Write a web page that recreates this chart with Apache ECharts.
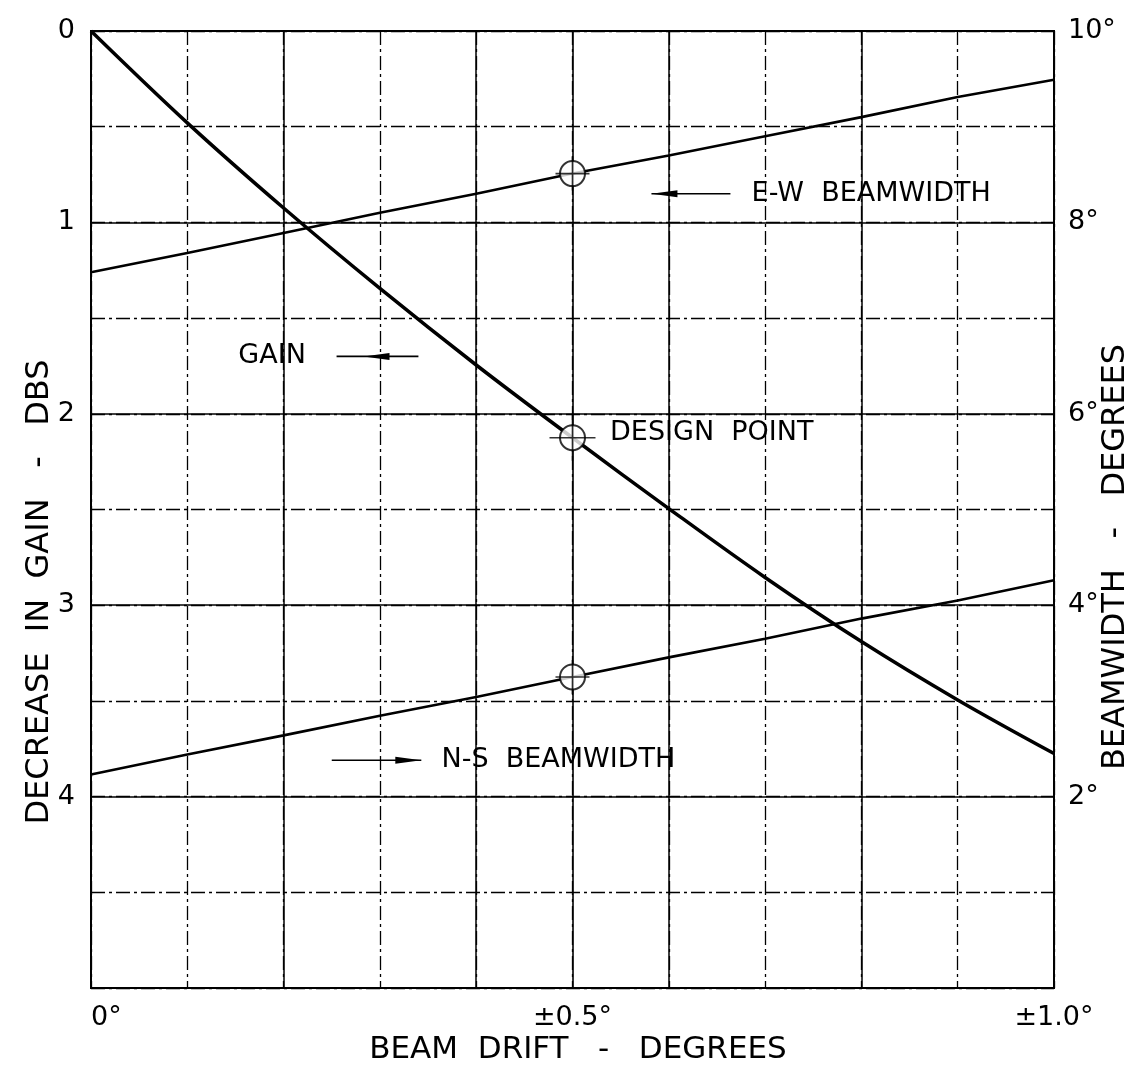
<!DOCTYPE html>
<html><head><meta charset="utf-8">
<script src="https://cdn.jsdelivr.net/npm/echarts@6/dist/echarts.min.js"></script>
<style>html,body{margin:0;padding:0;background:#fff}#c{width:1140px;height:1069px}</style>
</head><body><div id="c"></div>
<script>
// ---- data ----
const beamDrift     = [0, 0.1, 0.2, 0.3, 0.4, 0.5, 0.6, 0.7, 0.8, 0.9, 1.0];
const gainDecrease  = [0, 0.48, 0.925, 1.345, 1.745, 2.125, 2.495, 2.855, 3.19, 3.495, 3.775];
const ewBeamwidth   = [7.48, 7.68, 7.89, 8.10, 8.30, 8.51, 8.70, 8.90, 9.10, 9.31, 9.49];
const nsBeamwidth   = [2.23, 2.44, 2.64, 2.845, 3.04, 3.25, 3.455, 3.65, 3.86, 4.05, 4.26];
const designDrift   = 0.5;
const xTickLabels   = {'0': '0°', '0.5': '±0.5°', '1': '±1.0°'};
const leftTickLabels  = ['0', '1', '2', '3', '4'];
const rightTickLabels = {'2': '2°', '4': '4°', '6': '6°', '8': '8°', '10': '10°'};
const xTitle = 'BEAM  DRIFT   -   DEGREES';
const leftTitle = 'DECREASE  IN  GAIN   -   DBS';
const rightTitle = 'BEAMWIDTH   -   DEGREES';

const FONT = '"DejaVu Sans", "Liberation Sans", sans-serif';
const chart = echarts.init(document.getElementById('c'), null, {renderer: 'canvas'});
const pairs = (ys) => beamDrift.map((x, i) => [x, ys[i]]);
const di = beamDrift.indexOf(designDrift);

const crossPath = 'path://M0 10 L20 10 M10 0 L10 20';

chart.setOption({
  animation: false,
  backgroundColor: '#fff',
  grid: {left: 91, right: 86, top: 31, bottom: 81, show: true, borderColor: '#000', borderWidth: 2,
         backgroundColor: 'transparent', outerBoundsMode: 'none', containLabel: false},
  xAxis: [
    {type: 'value', min: 0, max: 1, interval: 0.1, position: 'bottom',
     axisLine: {show: false}, axisTick: {show: false},
     axisLabel: {margin: 16, color: '#000', fontFamily: FONT, fontSize: 27, alignMinLabel: 'left',
       formatter: v => { const k = String(Math.round(v * 10) / 10); return xTickLabels[k] || ''; }},
     splitLine: {show: true, lineStyle: {color: '#000', width: 1.3, type: [14, 4, 3, 4]}}},
    {type: 'value', min: 0, max: 1, interval: 0.2, position: 'bottom',
     axisLine: {show: false}, axisTick: {show: false}, axisLabel: {show: false},
     splitLine: {show: true, lineStyle: {color: '#000', width: 1.5}}}
  ],
  yAxis: [
    {type: 'value', min: 0, max: 5, interval: 0.5, inverse: true, position: 'left',
     axisLine: {show: false}, axisTick: {show: false},
     axisLabel: {margin: 16, color: '#000', fontFamily: FONT, fontSize: 27,
       formatter: v => { const r = Math.round(v * 2) / 2; return Number.isInteger(r) && r < leftTickLabels.length ? leftTickLabels[r] : ''; }},
     splitLine: {show: true, lineStyle: {color: '#000', width: 1.3, type: [14, 4, 3, 4]}}},
    {type: 'value', min: 0, max: 10, interval: 2, position: 'right',
     axisLine: {show: false}, axisTick: {show: false},
     axisLabel: {margin: 14, color: '#000', fontFamily: FONT, fontSize: 27, padding: [0, 0, 14, 0],
       formatter: v => rightTickLabels[String(Math.round(v))] || ''},
     splitLine: {show: false}},
    {type: 'value', min: 0, max: 5, interval: 1, inverse: true, position: 'left',
     axisLine: {show: false}, axisTick: {show: false}, axisLabel: {show: false},
     splitLine: {show: true, lineStyle: {color: '#000', width: 1.6}}}
  ],
  series: [
    {name: 'Gain', type: 'line', xAxisIndex: 0, yAxisIndex: 0, data: pairs(gainDecrease),
     smooth: 0.35, symbol: 'none', lineStyle: {color: '#000', width: 3.5}, z: 5},
    {name: 'E-W beamwidth', type: 'line', xAxisIndex: 0, yAxisIndex: 1, data: pairs(ewBeamwidth),
     symbol: 'none', lineStyle: {color: '#000', width: 2.6}, z: 5},
    {name: 'N-S beamwidth', type: 'line', xAxisIndex: 0, yAxisIndex: 1, data: pairs(nsBeamwidth),
     symbol: 'none', lineStyle: {color: '#000', width: 2.6}, z: 5},
    {name: 'Design gain', type: 'scatter', xAxisIndex: 0, yAxisIndex: 0,
     data: [[designDrift, gainDecrease[di]]], symbol: 'circle', symbolSize: 25,
     itemStyle: {color: '#fff', borderColor: '#000', borderWidth: 2}, z: 6,
     markLine: {silent: true, symbol: ['none', 'none'], label: {show: false},
       lineStyle: {color: '#000', width: 1.6, type: 'solid'}, data: [{xAxis: designDrift}], z: 1}},
    {name: 'Design beamwidth', type: 'scatter', xAxisIndex: 0, yAxisIndex: 1,
     data: [[designDrift, ewBeamwidth[di]], [designDrift, nsBeamwidth[di]]], symbol: 'circle', symbolSize: 25,
     itemStyle: {color: '#fff', borderColor: '#000', borderWidth: 2}, z: 6},
    {name: 'Design cross gain', type: 'scatter', xAxisIndex: 0, yAxisIndex: 0,
     data: [[designDrift, gainDecrease[di]]], symbol: crossPath, symbolSize: 46, symbolKeepAspect: false,
     itemStyle: {color: 'none', borderColor: '#000', borderWidth: 1.6}, z: 7},
    {name: 'Design cross beamwidth', type: 'scatter', xAxisIndex: 0, yAxisIndex: 1,
     data: [[designDrift, ewBeamwidth[di]], [designDrift, nsBeamwidth[di]]], symbol: crossPath, symbolSize: 34,
     itemStyle: {color: 'none', borderColor: '#000', borderWidth: 1.6}, z: 7}
  ]
});

// ---- annotations (placed in data units through the chart's own scales) ----
const annotations = [
  {text: 'GAIN', series: 0, tx: 0.153, ty: 1.70, a0: 0.255, a1: 0.340, head: 0.283, dir: -1},
  {text: 'DESIGN  POINT', series: 0, tx: 0.539, ty: 2.10},
  {text: 'E-W  BEAMWIDTH', series: 1, tx: 0.686, ty: 8.30, a0: 0.582, a1: 0.664, head: 0.582, dir: -1},
  {text: 'N-S  BEAMWIDTH', series: 1, tx: 0.364, ty: 2.38, a0: 0.250, a1: 0.343, head: 0.343, dir: 1}
];
const gfx = [];
annotations.forEach(a => {
  const p = chart.convertToPixel({seriesIndex: a.series}, [a.tx, a.ty]);
  gfx.push({type: 'text', x: p[0], y: p[1], z: 20,
    style: {text: a.text, fill: '#000', fontFamily: FONT, fontSize: 27, align: 'left', verticalAlign: 'middle'}});
  if (a.a0 !== undefined) {
    const p0 = chart.convertToPixel({seriesIndex: a.series}, [a.a0, a.ty]);
    const p1 = chart.convertToPixel({seriesIndex: a.series}, [a.a1, a.ty]);
    gfx.push({type: 'line', z: 20, shape: {x1: p0[0], y1: p0[1], x2: p1[0], y2: p1[1]},
      style: {stroke: '#000', lineWidth: 1.6}});
    const h = chart.convertToPixel({seriesIndex: a.series}, [a.head, a.ty]);
    const len = 26, w = 3.5;
    const tip = h[0], base = tip - a.dir * len;
    gfx.push({type: 'polygon', z: 20, shape: {points: [[tip, h[1]], [base, h[1] - w], [base, h[1] + w]]},
      style: {fill: '#000'}});
  }
});
// axis titles
gfx.push({type: 'text', x: 40, y: 592, rotation: Math.PI / 2, z: 20,
  style: {text: leftTitle, fill: '#000', fontFamily: FONT, fontSize: 32, align: 'center', verticalAlign: 'middle'}});
gfx.push({type: 'text', x: 1116, y: 557, rotation: Math.PI / 2, z: 20,
  style: {text: rightTitle, fill: '#000', fontFamily: FONT, fontSize: 32, align: 'center', verticalAlign: 'middle'}});
gfx.push({type: 'text', x: 578, y: 1050, z: 20,
  style: {text: xTitle, fill: '#000', fontFamily: FONT, fontSize: 31, align: 'center', verticalAlign: 'middle'}});
chart.setOption({graphic: gfx});
</script>
</body></html>
